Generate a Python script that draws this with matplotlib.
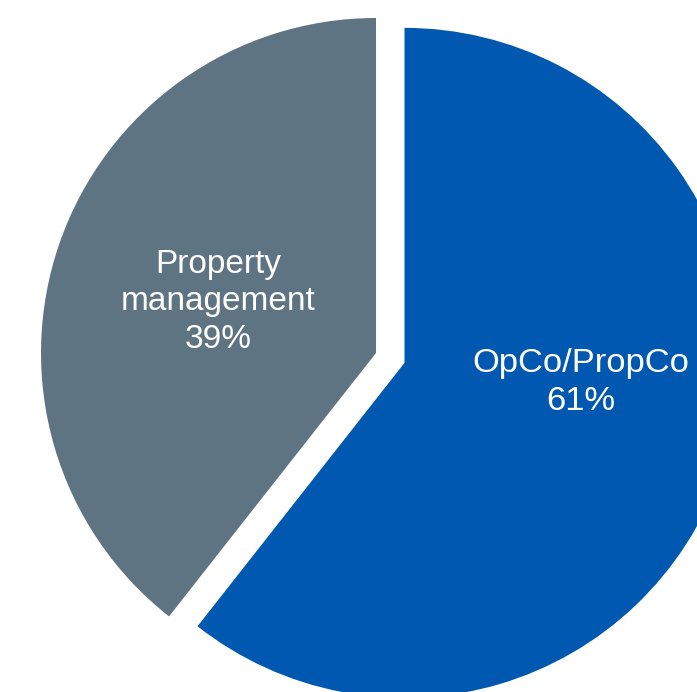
import matplotlib
matplotlib.use("Agg")
import matplotlib.pyplot as plt

# slice data (clockwise from 12 o'clock); the drawn angles suggest ~60.6 / 39.4
categories = ["OpCo/PropCo", "Property management"]
shares = [60.6, 39.4]
pct_labels = ["61%", "39%"]
colors = ["#0058B0", "#5F7483"]
explode = [0.09, 0.0]

W, H = 697, 692
R_PX = 335.0          # pie radius in pixels
CX, CY = 376.0, 353.0  # centre of the un-exploded slice, pixels


def px(x, y):
    # pixel (from top-left) -> data coords of the pie axes
    return (x - CX) / R_PX, (CY - y) / R_PX


plt.rcParams["font.family"] = ["Liberation Sans", "DejaVu Sans"]

fig = plt.figure(figsize=(W / 100, H / 100), dpi=100)
ax = fig.add_axes([0, 0, 1, 1])
ax.pie(
    shares,
    colors=colors,
    explode=explode,
    startangle=90,
    counterclock=False,
    radius=1.0,
    wedgeprops={"linewidth": 0},
)
x0, y1 = px(0, 0)
x1, y0 = px(W, H)
ax.set_xlim(x0, x1)
ax.set_ylim(y0, y1)
ax.set_aspect("auto")
ax.axis("off")

# labels, one line per call so baselines match the reference
label_lines = {
    0: ([categories[0], pct_labels[0]], 581, [372, 410], 24.8),
    1: (["Property", "management", pct_labels[1]], 218, [273, 310, 348], 24),
}
for i, (lines, lx, baselines, fs) in label_lines.items():
    for txt, by in zip(lines, baselines):
        tx, ty = px(lx, by)
        ax.text(tx, ty, txt, color="white", fontsize=fs,
                ha="center", va="baseline")

fig.savefig("out.png", dpi=100)
